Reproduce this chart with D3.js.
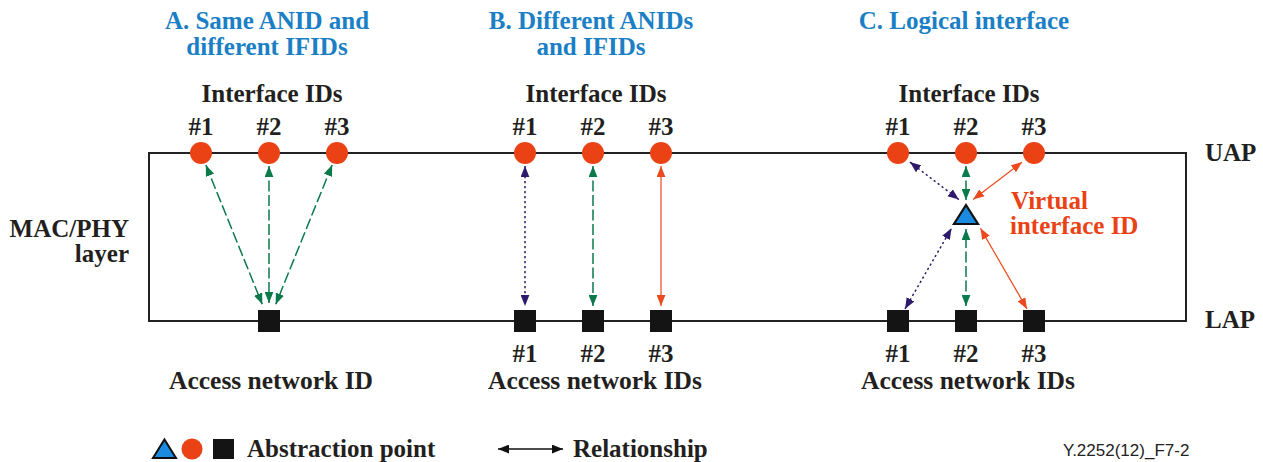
<!DOCTYPE html>
<html>
<head>
<meta charset="utf-8">
<script src="https://cdn.jsdelivr.net/npm/d3@7/dist/d3.min.js"></script>
<style>
  html, body { margin: 0; padding: 0; background: #fff; }
  svg { display: block; }
</style>
</head>
<body>
<svg id="chart" width="1263" height="462"></svg>
<script>
// ---------- data ----------
const sections = ["A", "B", "C"];
const sectionTitles = [
  ["A. Same ANID and", "different IFIDs"],
  ["B. Different ANIDs", "and IFIDs"],
  ["C. Logical interface"]
];
const ifLabels = ["#1", "#2", "#3"];
const lowerCaption = ["Access network ID", "Access network IDs", "Access network IDs"];
const upperCaption = "Interface IDs";
// which access network IDs exist in each section
const anIds = [["#2"], ["#1", "#2", "#3"], ["#1", "#2", "#3"]];
const anLabels = [[], ["#1", "#2", "#3"], ["#1", "#2", "#3"]];
// relationships: [section, from, to, kind]
const relations = [
  ["A", "IF#1", "AN#2", "green"],
  ["A", "IF#2", "AN#2", "green"],
  ["A", "IF#3", "AN#2", "green"],
  ["B", "IF#1", "AN#1", "purple"],
  ["B", "IF#2", "AN#2", "green"],
  ["B", "IF#3", "AN#3", "orange"],
  ["C", "IF#1", "VIF-top", "purple"],
  ["C", "IF#2", "VIF-top", "green"],
  ["C", "IF#3", "VIF-top", "orange"],
  ["C", "AN#1", "VIF-left", "purple"],
  ["C", "AN#2", "VIF-mid", "green"],
  ["C", "AN#3", "VIF-right", "orange"]
];
const layerNames = ["UAP", "LAP"];
const sideLabel = ["MAC/PHY", "layer"];
const virtualLabel = ["Virtual", "interface ID"];
const legendItems = ["Abstraction point", "Relationship"];
const figureCode = "Y.2252(12)_F7-2";

// ---------- style / layout ----------
const C = {
  blue: "#1b7fc5",
  text: "#231f20",
  orange: "#ea4214",
  tri: "#1a8be0",
  sq: "#141414",
  green: "#0b7a4b",
  purple: "#2d1a6b",
  lineOrange: "#ec4a1e"
};
const serif = "'Liberation Serif', 'Times New Roman', serif";
const sans = "'Liberation Sans', Arial, sans-serif";
const FS = 25;

const svg = d3.select("#chart");

const xSection = d3.scaleOrdinal().domain(sections).range([269, 593, 966]);
const xOffset = d3.scalePoint().domain(ifLabels).range([-68, 68]);
const yLayer = d3.scalePoint().domain(layerNames).range([153, 321]);
const boxX = d3.scaleLinear().domain([0, 1]).range([149, 1186]);

const R = 11, SQ = 22;
const triH = 19, triW = 24;
const triCy = 214.5;

const styles = {
  green: { color: C.green, dash: "11,3.5", width: 1.5 },
  purple: { color: C.purple, dash: "2.2,2.8", width: 1.5 },
  orange: { color: C.lineOrange, dash: null, width: 1.2 }
};

// markers
const defs = svg.append("defs");
function marker(id, color) {
  defs.append("marker")
    .attr("id", id)
    .attr("viewBox", "0 0 10 8")
    .attr("refX", 10).attr("refY", 4)
    .attr("markerUnits", "userSpaceOnUse")
    .attr("markerWidth", 11).attr("markerHeight", 9)
    .attr("orient", "auto-start-reverse")
    .append("path").attr("d", "M0,0 L10,4 L0,8 Z").attr("fill", color);
}
Object.entries(styles).forEach(([k, s]) => marker("m-" + k, s.color));
marker("m-black", "#111");

// box
svg.append("rect")
  .attr("x", boxX(0)).attr("y", yLayer("UAP"))
  .attr("width", boxX(1) - boxX(0)).attr("height", yLayer("LAP") - yLayer("UAP"))
  .attr("fill", "none").attr("stroke", "#222").attr("stroke-width", 2);

// node positions
function nodePos(sec, id) {
  const cx = xSection(sec);
  if (id.startsWith("IF")) return { x: cx + xOffset(id.slice(2)), y: yLayer("UAP"), kind: "circle" };
  if (id.startsWith("AN")) return { x: cx + xOffset(id.slice(2)), y: yLayer("LAP"), kind: "square" };
  const cxT = cx + xOffset("#2");
  if (id === "VIF-top") return { x: cxT, y: triCy - triH / 2, kind: "tri" };
  if (id === "VIF-left") return { x: cxT - triW / 2, y: triCy + triH / 2, kind: "tri" };
  if (id === "VIF-right") return { x: cxT + triW / 2, y: triCy + triH / 2, kind: "tri" };
  return { x: cxT, y: triCy + triH / 2, kind: "tri" };
}
const gapFor = { circle: 13, square: 15, tri: 5 };
const gapSquareA = 18;

// relations
relations.forEach(([sec, from, to, kind]) => {
  const p = nodePos(sec, from), q = nodePos(sec, to);
  const dx = q.x - p.x, dy = q.y - p.y, L = Math.hypot(dx, dy);
  const ux = dx / L, uy = dy / L;
  let g1 = gapFor[p.kind], g2 = gapFor[q.kind];
  if (sec === "A" && q.kind === "square") g2 = gapSquareA;
  if (sec === "C" && p.kind === "circle" && kind !== "green") g1 = 15;
  if (sec === "C" && p.kind === "square" && kind !== "green") g1 = 14;
  if (sec === "C" && q.kind === "tri" && kind !== "green" && to === "VIF-top") g2 = 9;
  const s = styles[kind];
  svg.append("line")
    .attr("x1", p.x + ux * g1).attr("y1", p.y + uy * g1)
    .attr("x2", q.x - ux * g2).attr("y2", q.y - uy * g2)
    .attr("stroke", s.color).attr("stroke-width", s.width)
    .attr("stroke-dasharray", s.dash)
    .attr("marker-start", "url(#m-" + kind + ")")
    .attr("marker-end", "url(#m-" + kind + ")");
});

// circles (interface IDs)
sections.forEach(sec => {
  svg.selectAll(null).data(ifLabels).enter().append("circle")
    .attr("cx", d => xSection(sec) + xOffset(d))
    .attr("cy", yLayer("UAP"))
    .attr("r", R).attr("fill", C.orange);
});
// squares (access network IDs)
sections.forEach((sec, i) => {
  svg.selectAll(null).data(anIds[i]).enter().append("rect")
    .attr("x", d => xSection(sec) + xOffset(d) - SQ / 2)
    .attr("y", yLayer("LAP") - SQ / 2)
    .attr("width", SQ).attr("height", SQ)
    .attr("fill", C.sq);
});
// triangle (virtual interface)
{
  const cx = xSection("C") + xOffset("#2");
  svg.append("path")
    .attr("d", `M${cx},${triCy - triH / 2} L${cx + triW / 2},${triCy + triH / 2} L${cx - triW / 2},${triCy + triH / 2} Z`)
    .attr("fill", C.tri).attr("stroke", "#111").attr("stroke-width", 2.2)
    .attr("stroke-linejoin", "miter");
}

// text helper
function txt(x, y, s, opt = {}) {
  return svg.append("text")
    .attr("x", x).attr("y", y)
    .attr("text-anchor", opt.anchor || "middle")
    .attr("font-family", opt.family || serif)
    .attr("font-weight", opt.weight || "bold")
    .attr("font-size", opt.size || FS)
    .attr("fill", opt.color || C.text)
    .text(s);
}

// titles
sections.forEach((sec, i) => {
  sectionTitles[i].forEach((line, j) => {
    txt(xSection(sec) - 2, 29 + j * 25.5, line, { color: C.blue });
  });
  txt(xSection(sec) + 3, 102, upperCaption);
  ifLabels.forEach(l => txt(xSection(sec) + xOffset(l), 135, l));
  anLabels[i].forEach(l => txt(xSection(sec) + xOffset(l), 362, l));
  txt(xSection(sec) + 2, 389, lowerCaption[i], { size: 25.5 });
});

// layer labels
txt(1205, 161, layerNames[0], { anchor: "start" });
txt(1205, 328, layerNames[1], { anchor: "start" });
txt(129, 237, sideLabel[0], { anchor: "end" });
txt(129, 262, sideLabel[1], { anchor: "end" });

// virtual label
txt(1011, 209, virtualLabel[0], { anchor: "start", color: C.orange });
txt(1010, 234, virtualLabel[1], { anchor: "start", color: C.orange });

// legend
{
  const ly = 449;
  svg.append("path")
    .attr("d", `M164.5,${ly - 9.5} L176,${ly + 9} L153,${ly + 9} Z`)
    .attr("fill", C.tri).attr("stroke", "#111").attr("stroke-width", 2);
  svg.append("circle").attr("cx", 192).attr("cy", ly).attr("r", 10.5).attr("fill", C.orange);
  svg.append("rect").attr("x", 213).attr("y", ly - 10).attr("width", 21).attr("height", 20).attr("fill", C.sq);
  txt(247, 457, legendItems[0], { anchor: "start" });
  svg.append("line")
    .attr("x1", 498).attr("y1", ly).attr("x2", 563).attr("y2", ly)
    .attr("stroke", "#111").attr("stroke-width", 1.3)
    .attr("marker-start", "url(#m-black)").attr("marker-end", "url(#m-black)");
  txt(573, 457, legendItems[1], { anchor: "start" });
  txt(1063, 456, figureCode, { anchor: "start", family: sans, weight: "normal", size: 17, color: "#222" });
}
</script>
</body>
</html>
